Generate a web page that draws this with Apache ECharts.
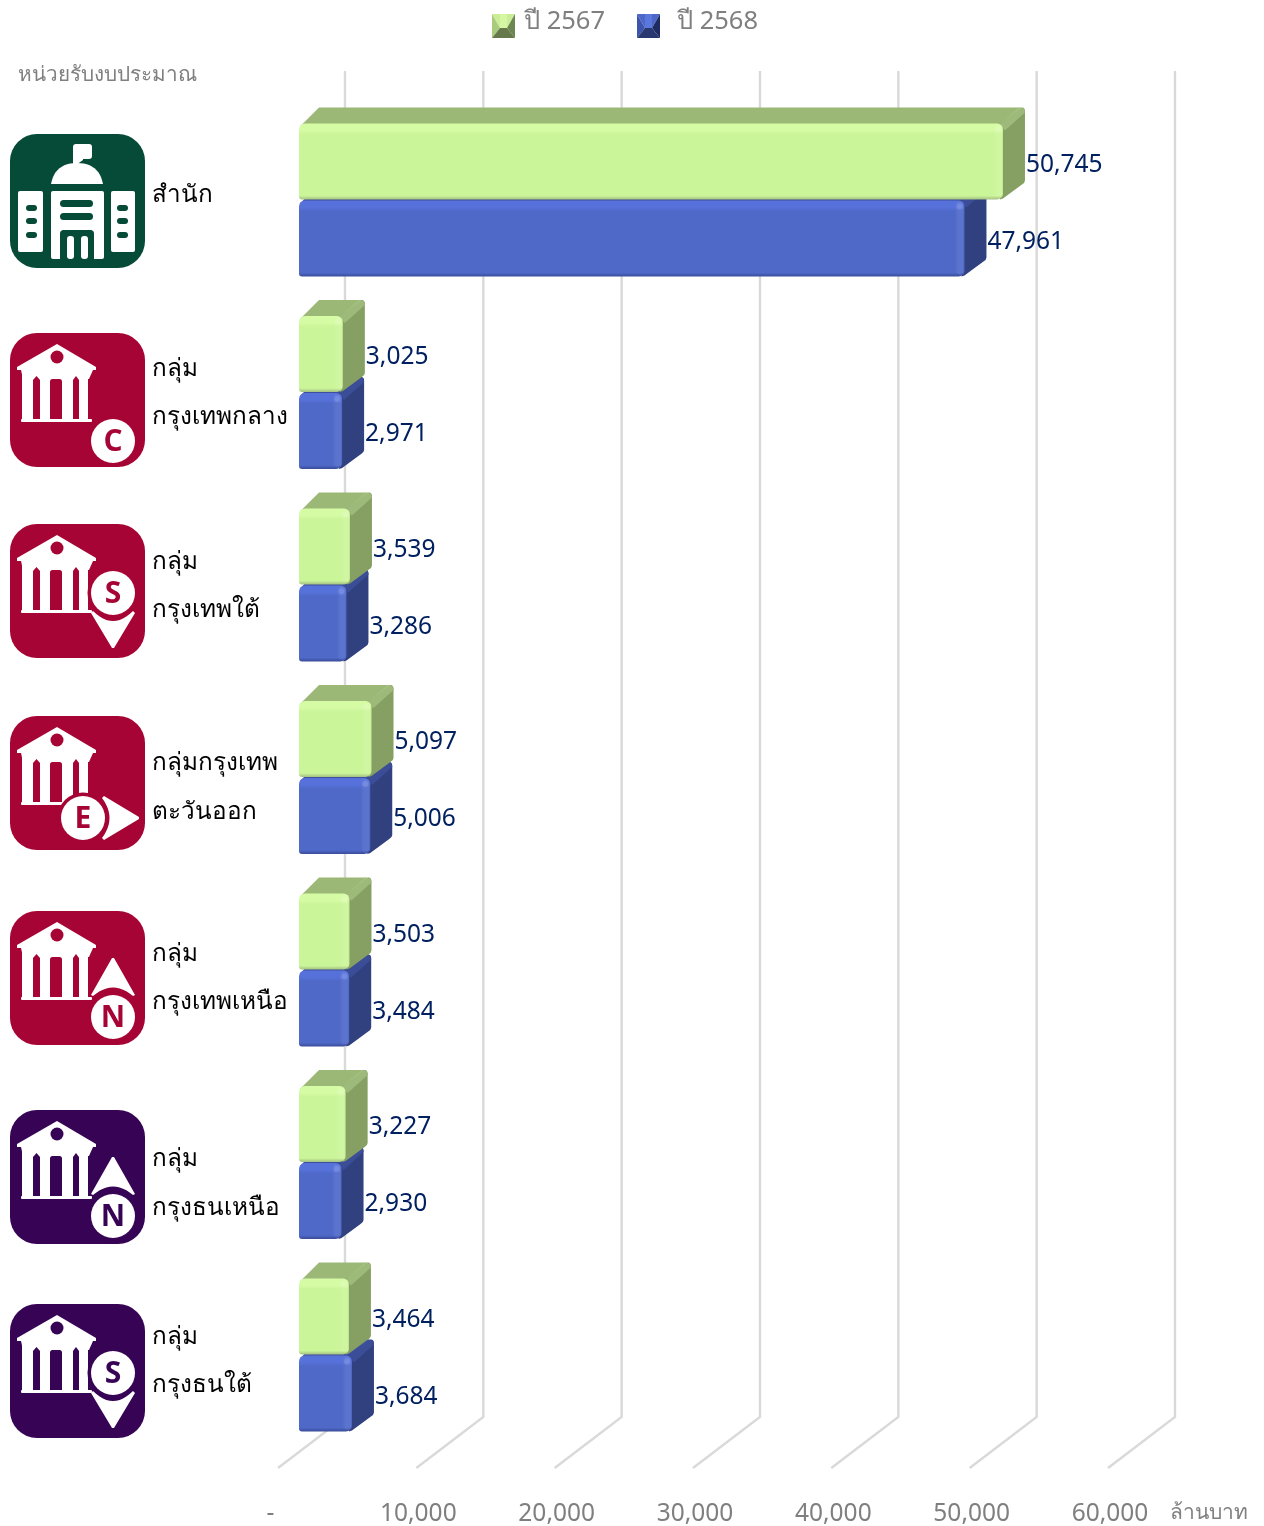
<!DOCTYPE html>
<html>
<head>
<meta charset="utf-8">
<style>html,body{margin:0;padding:0;background:#fff}#c{width:1264px;height:1526px}</style>
<script src="https://cdn.jsdelivr.net/npm/echarts@6/dist/echarts.min.js"></script>
</head>
<body>
<div id="c"></div>
<script>
const categories = ['สำนัก','กลุ่ม\nกรุงเทพกลาง','กลุ่ม\nกรุงเทพใต้','กลุ่มกรุงเทพ\nตะวันออก','กลุ่ม\nกรุงเทพเหนือ','กลุ่ม\nกรุงธนเหนือ','กลุ่ม\nกรุงธนใต้'];
const values2567 = [50745,3025,3539,5097,3503,3227,3464];
const values2568 = [47961,2971,3286,5006,3484,2930,3684];
const axisTicks = [0,10000,20000,30000,40000,50000,60000];
const seriesNames = ['ปี 2567','ปี 2568'];
const unitLeft = 'หน่วยรับงบประมาณ';
const unitRight = 'ล้านบาท';

const FONT = '"Noto Sans","Open Sans",sans-serif';
const DX = 22, DY = 16;
const GREEN = {front:'#CBF599', hi:'#D6FBA5', lo:'#A3BF82', top:'#9CB877', side:'#86A063', edge:'#A6C484'};
const BLUE  = {front:'#4F69C9', hi:'#5671D9', lo:'#3A4C98', top:'#3D4F9E', side:'#31407F', edge:'#3F52A0'};
const G = echarts.graphic;

function bar3d(p){
  const {x0,x1,y0,y1,c} = p, r = 6;
  const w = x1-x0, h = y1-y0;
  const topD = `M${x0+1} ${y0+3} L${x0+DX-2} ${y0-DY} L${x1+DX-5} ${y0-DY} Q${x1+DX} ${y0-DY} ${x1+DX} ${y0-DY+5} L${x1} ${y0+4} Z`;
  const sideD = `M${x1-3} ${y0} L${x1+DX-3} ${y0-DY} Q${x1+DX} ${y0-DY} ${x1+DX} ${y0-DY+4} L${x1+DX} ${y1-DY-3} Q${x1+DX} ${y1-DY-1} ${x1+DX-3} ${y1-DY+1} L${x1} ${y1-1} L${x1-3} ${y1} Z`;
  const edgeD = `M${x1-4} ${y0+1} L${x1+DX-6} ${y0-DY} L${x1+DX-1} ${y0-DY+1} L${x1+DX} ${y0-DY+5} L${x1+2} ${y0+7} Z`;
  return [
    {type:'path', shape:{pathData:topD}, style:{fill:c.top}},
    {type:'path', shape:{pathData:sideD}, style:{fill:c.side}},
    {type:'path', shape:{pathData:edgeD}, style:{fill:c.edge, opacity:.7}},
    {type:'rect', shape:{x:x0,y:y0,width:w,height:h,r:[r,r,r,3]},
      style:{fill:new G.LinearGradient(0,0,0,1,[
        {offset:0,color:c.hi},{offset:.09,color:c.hi},{offset:.14,color:c.front},
        {offset:.95,color:c.front},{offset:1,color:c.lo}])}},
    {type:'rect', shape:{x:x1-10,y:y0+1,width:10,height:h-3,r:[6,6,6,6]},
      style:{fill:new G.LinearGradient(0,0,1,0,[
        {offset:0,color:'rgba(255,255,255,0)'},{offset:.4,color:'rgba(255,255,255,.07)'},
        {offset:.85,color:'rgba(255,255,255,.07)'},{offset:1,color:'rgba(0,0,0,.05)'}])}},
    {type:'circle', shape:{cx:x1-5,cy:y0+6,r:3}, style:{fill:'rgba(255,255,255,.12)'}}
  ];
}

function barSeries(name, vals, c, upper){
  return {
    type:'custom', name, xAxisIndex:0, yAxisIndex:0, z:upper?4:3, clip:false,
    data: vals.map((v,i)=>[v,i]),
    encode:{x:0,y:1},
    renderItem(params, api){
      const v = api.value(0), cat = api.value(1);
      const s = api.coord([0,cat]), e = api.coord([v,cat]);
      const yc = s[1];
      const y0 = upper ? yc-76.5 : yc+0.5, y1 = upper ? yc-0.5 : yc+76.5;
      const text = {type:'text', z2:10, style:{
        text:v.toLocaleString('en-US'), x:e[0]+DX+1, y:(y0+y1)/2+3.5,
        font:'24.5px '+FONT, fill:'#002060', align:'left', verticalAlign:'middle'}};
      return {type:'group', children:bar3d({x0:s[0]-2,x1:e[0],y0,y1,c}).concat([text])};
    }
  };
}

const gridLines = {
  type:'custom', name:'grid', xAxisIndex:1, yAxisIndex:1, z:1, silent:true, clip:false,
  data: axisTicks.map(t=>[t]), encode:{x:0},
  renderItem(params, api){
    const t = api.value(0);
    const a = api.coord([t,0]), top = api.coord([t,1]);
    return {type:'polyline', shape:{points:[[a[0],a[1]],[a[0]+67,a[1]-51],[a[0]+67,top[1]]]},
      style:{stroke:'#D9D9D9',lineWidth:2.4,fill:null}};
  }
};

function swatch(l,t,r,b,m){
  const svg = `<svg xmlns="http://www.w3.org/2000/svg" width="23" height="24"><polygon points="0,0 23,0 15,14 8,14" fill="${t}"/><polygon points="0,0 8,14 8,14 0,24" fill="${l}"/><polygon points="23,0 15,14 23,24" fill="${r}"/><polygon points="0,24 8,14 15,14 23,24" fill="${b}"/><polygon points="8,0 15,0 15,14 8,14" fill="${m}"/></svg>`;
  return 'image://data:image/svg+xml;charset=utf-8,'+encodeURIComponent(svg);
}
const legendIcons = [
  swatch('#A9CC7C','#C9EE97','#6E8650','#65794A','#D5F7A3'),
  swatch('#3D54AC','#4D68C8','#1F2C63','#2A3871','#5A78DE')
];

/* icons */
function rr(x,y,w,h,r,fill){return {type:'rect',shape:{x,y,width:w,height:h,r},style:{fill}};}
function poly(pts,fill){return {type:'polygon',shape:{points:pts},style:{fill}};}
function pth(d,fill){
  const tk = d.match(/[MLQZ]|-?[\d.]+/g), pts=[]; let i=0, cur=null;
  while(i<tk.length){
    const c=tk[i++];
    if(c==='M'||c==='L'){cur=[+tk[i++],+tk[i++]];pts.push(cur);}
    else if(c==='Q'){
      const a=[+tk[i++],+tk[i++]], b=[+tk[i++],+tk[i++]];
      for(let k=1;k<=12;k++){const u=k/12,v=1-u;pts.push([v*v*cur[0]+2*u*v*a[0]+u*u*b[0],v*v*cur[1]+2*u*v*a[1]+u*u*b[1]]);}
      cur=b;
    }
  }
  return poly(pts,fill);
}
function circ(cx,cy,r,fill){return {type:'circle',shape:{cx,cy,r},style:{fill}};}
function temple(col){
  const W='#fff';
  return [
    poly([[47,11],[86,34],[86,37],[7,37],[7,34]],W),
    rr(12,37,66,50,0,W), poly([[11,37],[83,37],[79,46],[13,46]],W),
    rr(11,86,71,3,1,W),
    circ(47,24,6.5,col),
    poly([[23,86],[23,47],[26.5,43],[30,47],[30,86]],col),
    pth('M40 86 L40 49 Q40 46 43 46 L49 46 Q52 46 52 49 L52 86 Z',col),
    poly([[63,86],[63,47],[66,43],[69,47],[69,86]],col)
  ];
}
function badge(cx,cy,letter,col){
  return [circ(cx,cy,25.5,col),circ(cx,cy,22,'#fff'),
    {type:'text',style:{text:letter,x:cx,y:cy+1,font:'bold 30px "Open Sans",sans-serif',fill:col,align:'center',verticalAlign:'middle'}}];
}
const arrowDown='M81 89 L83 87 Q103 107 123 87 L125 89 L104 124 L102 124 Z';
const arrowUp='M81 84 L102 47 L104 47 L125 84 L123 85 Q103 68 83 85 Z';
const arrowRight='M92 82 L94 80 L129 101 L129 103 L94 124 L92 122 Q107 102 92 82 Z';
function officeIcon(col){
  const W='#fff';
  return [
    rr(63,10,19,15,3,W), poly([[63,20],[73,20],[73,26],[66,31],[63,31]],W),
    pth('M41 50 Q45 29 67 29 Q89 29 93 50 Z',W),
    rr(41,57,53,68,2,W), rr(8,57,25,61,2,W), rr(101,57,24,61,2,W),
    rr(16,71,11,6,3,col),rr(16,84,11,6,3,col),rr(16,98,11,6,3,col),
    rr(107,71,11,6,3,col),rr(107,84,11,6,3,col),rr(107,98,11,6,3,col),
    rr(50,66,33,7,3.5,col),rr(50,79,33,7,3.5,col),
    pth('M50 125 L50 100 Q50 96 54 96 L80 96 Q84 96 84 100 L84 125 Z',col),
    rr(57,102,7,23,3,W),rr(71,102,7,23,3,W)
  ];
}
const RED='#A50434', PUR='#360355', DGN='#054B38';
function iconDefs(){return [
  {y:134,col:DGN,kids:officeIcon(DGN)},
  {y:333,col:RED,kids:temple(RED).concat(badge(103,108,'C',RED))},
  {y:524,col:RED,kids:temple(RED).concat([pth(arrowDown,'#fff')],badge(103,69,'S',RED))},
  {y:716,col:RED,kids:temple(RED).concat([pth(arrowRight,'#fff')],badge(73,102,'E',RED))},
  {y:911,col:RED,kids:temple(RED).concat([pth(arrowUp,'#fff')],badge(103,106,'N',RED))},
  {y:1110,col:PUR,kids:temple(PUR).concat([pth(arrowUp,'#fff')],badge(103,106,'N',PUR))},
  {y:1304,col:PUR,kids:temple(PUR).concat([pth(arrowDown,'#fff')],badge(103,69,'S',PUR))}
];}
const labelY = [[195],[369.5,417.5],[562.5,610.5],[763.5,812.5],[954.5,1002.5],[1159.5,1208.5],[1337.5,1385.5]];

const graphics = [];
iconDefs().forEach(d=>{
  graphics.push({type:'group',x:10,y:d.y,children:[rr(0,0,135,134,27,d.col)].concat(d.kids)});
});
categories.forEach((cat,i)=>{
  cat.split('\n').forEach((ln,j)=>{
    graphics.push({type:'text',style:{text:ln,x:152,y:labelY[i][j],font:'24.3px '+FONT,fill:'#000',align:'left',verticalAlign:'middle'}});
  });
});
graphics.push({type:'text',style:{text:unitLeft,x:18,y:75,font:'20.7px '+FONT,fill:'#808080',align:'left',verticalAlign:'middle'}});
graphics.push({type:'text',style:{text:unitRight,x:1170,y:1513,font:'21px '+FONT,fill:'#808080',align:'left',verticalAlign:'middle'}});

const legendRich = {a:{fontFamily:FONT,fontSize:25.5,color:'#7F7F7F'},b:{fontSize:1,lineHeight:8}};
const legendFmt = n=>`{a|${n}}\n{b| }`;

const chart = echarts.init(document.getElementById('c'),null,{renderer:'canvas'});
chart.setOption({
  animation:false,
  backgroundColor:'#fff',
  legend:[
    {data:[{name:seriesNames[0],icon:legendIcons[0]}],left:492,top:9,padding:0,itemWidth:23,itemHeight:24,selectedMode:false,formatter:legendFmt,
     textStyle:{fontFamily:FONT,fontSize:25.5,color:'#7F7F7F',padding:[0,0,0,4],rich:legendRich}},
    {data:[{name:seriesNames[1],icon:legendIcons[1]}],left:637,top:9,padding:0,itemWidth:23,itemHeight:24,selectedMode:false,formatter:legendFmt,
     textStyle:{fontFamily:FONT,fontSize:25.5,color:'#7F7F7F',padding:[0,0,0,12],rich:legendRich}}
  ],
  grid:[
    {left:301,top:103.75,width:830,height:1347.5,containLabel:false,outerBoundsMode:'none'},
    {left:278,top:71,width:830,height:1397,containLabel:false,outerBoundsMode:'none'}
  ],
  xAxis:[
    {gridIndex:0,type:'value',min:0,max:60000,interval:10000,show:false},
    {gridIndex:1,type:'value',min:0,max:60000,interval:10000,
      axisLine:{show:false},axisTick:{show:false},splitLine:{show:false},
      axisLabel:{margin:34,padding:[0,0,0,4],fontFamily:FONT,fontSize:24.5,color:'#7F7F7F',hideOverlap:false,
        formatter:v=>v===0?'-   ':v.toLocaleString('en-US')}}
  ],
  yAxis:[
    {gridIndex:0,type:'category',inverse:true,data:categories,show:false},
    {gridIndex:1,type:'value',min:0,max:1,show:false}
  ],
  graphic:graphics,
  series:[
    gridLines,
    barSeries(seriesNames[1],values2568,BLUE,false),
    barSeries(seriesNames[0],values2567,GREEN,true)
  ]
});
</script>
</body>
</html>
